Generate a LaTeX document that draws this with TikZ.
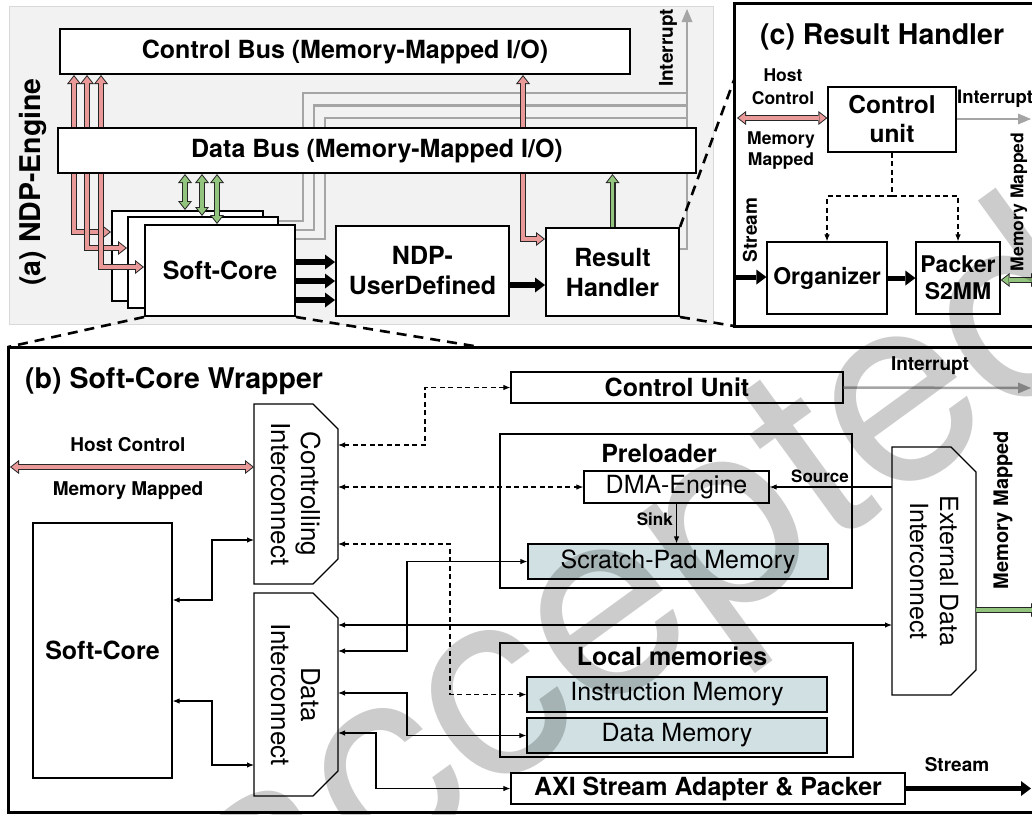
\documentclass[tikz,border=0pt]{standalone}
\usepackage{fontspec}
\setmainfont{TeX Gyre Heros}
\usetikzlibrary{arrows.meta}

\definecolor{panelgray}{HTML}{F2F2F2}
\definecolor{panelline}{HTML}{D9D9D9}
\definecolor{ctrlpink}{HTML}{EA9999}
\definecolor{datagreen}{HTML}{93C47D}
\definecolor{wiregray}{HTML}{A5A5A5}
\definecolor{memfill}{HTML}{D0E0E3}
\definecolor{pipeedge}{HTML}{262626}

\newcommand\fsz[2]{\fontsize{#1}{#2}\selectfont}

\pgfdeclarelayer{panel}
\pgfdeclarelayer{wires}
\pgfdeclarelayer{toplayer}
\pgfsetlayers{panel,wires,main,toplayer}

\tikzset{
  PipeO/.tip={Triangle[width=14pt,length=9pt,line width=0pt]},
  PipeI/.tip={Triangle[width=10pt,length=6.4pt,line width=0pt]},
  pipe both/.style={draw=pipeedge, line width=6pt, arrows={PipeO-PipeO},
    postaction={draw=#1, line width=3.6pt, arrows={PipeI-PipeI},
      shorten <=1.6pt, shorten >=1.6pt}},
  pipe end/.style={draw=pipeedge, line width=6pt, arrows={-PipeO},
    postaction={draw=#1, line width=3.6pt, arrows={-PipeI}, shorten >=1.6pt}},
  wire/.style={draw=wiregray, line width=2.5pt},
  irq/.style={wire, -{Triangle[width=11pt,length=13pt,line width=0pt]}},
  bus arrow/.style={line width=6pt, -{Triangle[width=15pt,length=10pt,line width=0pt]}},
  link/.style={line width=1.1pt, >={Latex[length=7pt,width=5.5pt]}},
  ctl/.style={link, dash pattern=on 5pt off 3.5pt},
  zoomline/.style={line width=2.6pt, dash pattern=on 10pt off 7pt},
  abox/.style={draw, line width=2pt, fill=white, inner sep=0pt, align=center, font=\fsz{25}{30}\bfseries},
  tbox/.style={draw, line width=1.2pt, fill=white, inner sep=0pt, align=center, font=\fsz{25}{30}\bfseries},
  frame/.style={draw, line width=1.2pt, inner sep=0pt},
  mem/.style={tbox, fill=memfill, font=\fsz{25}{30}},
  lbl/.style={inner sep=0pt, align=center, font=\fsz{19}{23}\bfseries},
  clbl/.style={inner sep=0pt, align=center, font=\fsz{17.5}{21}\bfseries},
  head/.style={inner sep=0pt, anchor=west, font=\fsz{28.5}{34}\bfseries},
  icshape/.style={inner sep=0pt, outer sep=0pt},
  icline/.style={line width=1.2pt},
  ictext/.style={inner sep=0pt, align=center, rotate=-90, font=\fsz{26}{30}},
}

\begin{document}
\begin{tikzpicture}[x=1pt,y=-1pt]
\path[use as bounding box] (0,0) rectangle (1032,814);
\clip (0,0) rectangle (1032,814);

% ================= (a) NDP-Engine =================
\begin{pgfonlayer}{panel}
  \draw[panelline, fill=panelgray, line width=1pt] (9,6) rectangle (713,324);
\end{pgfonlayer}
\node[rotate=90, inner sep=0pt, font=\fsz{28.5}{34}\bfseries] (atitle) at (33,182) {(a) NDP-Engine};

\node[abox, minimum width=570, minimum height=45] (cbus) at (345,51.5) {Control Bus (Memory-Mapped I/O)};
\node[abox, minimum width=151, minimum height=90] (sc1) at (187.5,256) {};
\node[abox, minimum width=150, minimum height=91] (sc2) at (203,262.5) {};
\node[abox, minimum width=150, minimum height=91] (sc3) at (220,270.5) {Soft-Core};
\node[abox, minimum width=173, minimum height=90] (ndp) at (422.5,271) {NDP-\\UserDefined};
\node[abox, minimum width=133, minimum height=88] (rh) at (612.5,272) {Result\\Handler};

% interrupt wires from the cores and the result handler
\coordinate (irqtop) at (687,9);
\begin{pgfonlayer}{wires}
  \draw[wire] (sc1.east |- 0,221) -- (303,221) -- (303,93) -- (irqtop |- 0,93);
  \draw[wire] (sc2.east |- 0,230) -- (314,230) -- (314,105.5) -- (irqtop |- 0,105.5);
  \draw[wire] (sc3.east |- 0,239) -- (325,239) -- (325,118) -- (irqtop |- 0,118);
  \draw[irq] (rh.east |- 0,249) -- (irqtop |- 0,249) -- (irqtop);
\end{pgfonlayer}
\node[lbl, rotate=90] (airq) at (668,48) {Interrupt};

% control bus links (memory mapped)
\draw[pipe both=ctrlpink] (cbus.south -| 74,0) -- (74,232) -- (sc1.west |- 0,232);
\draw[pipe both=ctrlpink] (cbus.south -| 87,0) -- (87,248) -- (sc2.west |- 0,248);
\draw[pipe both=ctrlpink] (cbus.south -| 101,0) -- (101,267) -- (sc3.west |- 0,267);
\draw[pipe both=ctrlpink] (cbus.south -| 523,0) -- (523,239) -- (rh.west |- 0,239);

\node[abox, minimum width=638, minimum height=45] (dbus) at (377,150.5) {Data Bus (Memory-Mapped I/O)};

% data bus links
\draw[pipe both=datagreen] (dbus.south -| 185,0) -- (sc1.north -| 185,0);
\draw[pipe both=datagreen] (dbus.south -| 202,0) -- (sc2.north -| 202,0);
\draw[pipe both=datagreen] (dbus.south -| 217,0) -- (sc3.north -| 217,0);
\draw[pipe end=datagreen] (rh.north) -- (rh.north |- dbus.south);

% streams
\draw[bus arrow] (sc3.east |- 0,262) -- (ndp.west |- 0,262);
\draw[bus arrow] (sc3.east |- 0,281) -- (ndp.west |- 0,281);
\draw[bus arrow] (sc3.east |- 0,300) -- (ndp.west |- 0,300);
\draw[bus arrow] (ndp.east |- 0,285) -- (rh.west |- 0,285);

% ================= (c) Result Handler =================
\coordinate (cTL) at (734,3);
\coordinate (cBL) at (734,326);
\draw[line width=3pt] (1040,3) -- (cTL) -- (cBL) -- (1040,326);
\node[head] (ctitle) at (760,37) {(c) Result Handler};

\node[tbox, minimum width=128, minimum height=65, font=\fsz{24.5}{29}\bfseries] (cu) at (892,119.5) {Control\\unit};
\node[tbox, minimum width=120, minimum height=72, font=\fsz{23}{27}\bfseries] (org) at (827,278) {Organizer};
\node[tbox, minimum width=84, minimum height=72, font=\fsz{23}{27}\bfseries] (pk) at (958,278) {Packer\\S2MM};

\node[clbl] (chost) at (783,87) {Host\\[2pt]Control};
\node[clbl] (cmm) at (781,150.5) {Memory\\Mapped};
\coordinate (chostin) at (737,118);
\draw[pipe both=ctrlpink] (chostin) -- (cu.west |- chostin);

\coordinate (cirq) at (1031,119);
\draw[irq] (cu.east |- cirq) -- (cirq);
\node[clbl, anchor=west, font=\fsz{18.5}{22}\bfseries] (cirqlbl) at (957,99) {Interrupt};

\coordinate (split) at (892,196);
\draw[ctl] (cu.south) -- (split);
\draw[ctl,->] (split) -| (org.north -| 827,0);
\draw[ctl,->] (split) -| (pk.north);

\coordinate (cstream) at (735,277);
\draw[bus arrow, line width=5pt] (cstream) -- (org.west |- cstream);
\node[lbl, rotate=90] (cstreamlbl) at (750,230) {Stream};
\draw[bus arrow, line width=5pt] (org.east |- 0,278) -- (pk.west |- 0,278);
\coordinate (cmmout) at (1040,280);
\draw[pipe both=datagreen] (pk.east |- cmmout) -- (cmmout);
\node[clbl, rotate=90] (cmmlbl) at (1019,202) {Memory Mapped};

% zoom guides
\draw[zoomline] (rh.north east) -- (cTL |- 0,80);
\draw[zoomline] (rh.south east) -- (cBL);

% ================= (b) Soft-Core Wrapper =================
\coordinate (bTL) at (8,347);
\draw[line width=3pt] (1040,347) -- (bTL) -- (8,812) -- (1040,812);
\node[head] (btitle) at (25,381) {(b) Soft-Core Wrapper};

\draw[zoomline] (sc3.south west) -- (bTL);
\draw[zoomline] (sc3.south east) -- (480,347);

\node[tbox, minimum width=139, minimum height=255] (bcore) at (102.5,650.5) {Soft-Core};

% interconnects with chamfered right corners
\node[icshape, minimum width=84, minimum height=180] (cic) at (296,494) {};
\node[icshape, minimum width=84, minimum height=203] (dic) at (296,694.5) {};
\node[icshape, minimum width=84, minimum height=248] (eic) at (934,571) {};
\foreach \ic in {cic,dic,eic}{
  \draw[icline] (\ic.north west) -- ([xshift=-25pt]\ic.north east) -- ([yshift=-25pt]\ic.north east)
    -- ([yshift=25pt]\ic.south east) -- ([xshift=-25pt]\ic.south east) -- (\ic.south west) -- cycle;
}
\node[ictext] at (cic.center) {Controlling\\Interconnect};
\node[ictext] at (dic.center) {Data\\Interconnect};
\node[ictext, font=\fsz{25}{30}] at (eic.center) {External Data\\Interconnect};

\node[tbox, minimum width=332, minimum height=31] (bcu) at (677,387.5) {Control Unit};

\node[frame, minimum width=352, minimum height=154] (pre) at (676,511) {};
\node[lbl, font=\fsz{25}{30}\bfseries] (pretitle) at (659,453) {Preloader};
\node[tbox, font=\fsz{25}{30}, minimum width=185, minimum height=32] (dma) at (676.5,487) {DMA-Engine};
\node[mem, minimum width=300, minimum height=35] (spm) at (678,561.5) {Scratch-Pad Memory};

\node[frame, minimum width=353, minimum height=114] (lmem) at (676.5,700) {};
\node[lbl, font=\fsz{25}{30}\bfseries] (lmemtitle) at (672,656) {Local memories};
\node[mem, minimum width=300, minimum height=35] (imem) at (677,694.5) {Instruction Memory};
\node[mem, minimum width=300, minimum height=35] (dmem) at (677,735.5) {Data Memory};

\node[tbox, minimum width=394, minimum height=31] (axi) at (708,788.5) {AXI Stream Adapter \& Packer};

% host control port
\coordinate (bhost) at (10,467);
\draw[pipe both=ctrlpink] (bhost) -- (cic.west |- bhost);
\node[lbl] (bhostlbl) at (128,445) {Host Control};
\node[lbl] (bmmlbl) at (128,491) {Memory Mapped};

% core to interconnects
\draw[link,<->] (bcore.east |- 0,600) -- (212,600) -- (212,540) -- (cic.west |- 0,540);
\draw[link,<->] (bcore.east |- 0,701) -- (212,701) -- (212,765) -- (dic.west |- 0,765);

% control paths
\draw[ctl,<->] (cic.east |- 0,445) -- (425,445) -- (425,387.5) -- (bcu.west);
\draw[ctl,<->] (cic.east |- dma.west) -- (dma.west);
\draw[ctl,<->] (cic.east |- 0,544) -- (450,544) -- (450,694.5) -- (imem.west);

% data paths
\draw[link,<->] (dic.east |- 0,651) -- (407,651) -- (407,561.5) -- (spm.west);
\draw[link,<->] (dic.east |- 0,625) -- (eic.west |- 0,625);
\draw[link,<->] (dic.east |- 0,693) -- (407,693) -- (407,735.5) -- (dmem.west);
\draw[link,<->] (dic.east |- 0,733) -- (376,733) -- (376,788.5) -- (axi.west);

\draw[link,->] (eic.west |- dma.east) -- (dma.east);
\node[lbl, font=\fsz{17}{20}\bfseries] (srclbl) at (820,476) {Source};
\draw[link,->] (dma.south) -- (spm.north -| dma.south);
\node[lbl, font=\fsz{17}{20}\bfseries, anchor=east] (sinklbl) at (673,519) {Sink};

% outputs
\coordinate (birq) at (1031,388);
\draw[irq] (bcu.east) -- (birq);
\node[lbl] (birqlbl) at (930,366) {Interrupt};

\coordinate (bmmout) at (1040,610);
\draw[pipe end=datagreen] (eic.east |- bmmout) -- (bmmout);
\node[lbl, font=\fsz{20}{24}\bfseries, rotate=90] (bmmside) at (1003,510) {Memory Mapped};

\coordinate (bstream) at (1031,788.5);
\draw[bus arrow, line width=5pt] (axi.east) -- (bstream);
\node[lbl] (bstreamlbl) at (957,765) {Stream};

% watermark
\begin{pgfonlayer}{toplayer}
  \node[inner sep=0pt, rotate=36, text=black, text opacity=0.2, font=\fsz{265}{300}] (wm) at (650,595) {accepted};
\end{pgfonlayer}
\end{tikzpicture}
\end{document}
